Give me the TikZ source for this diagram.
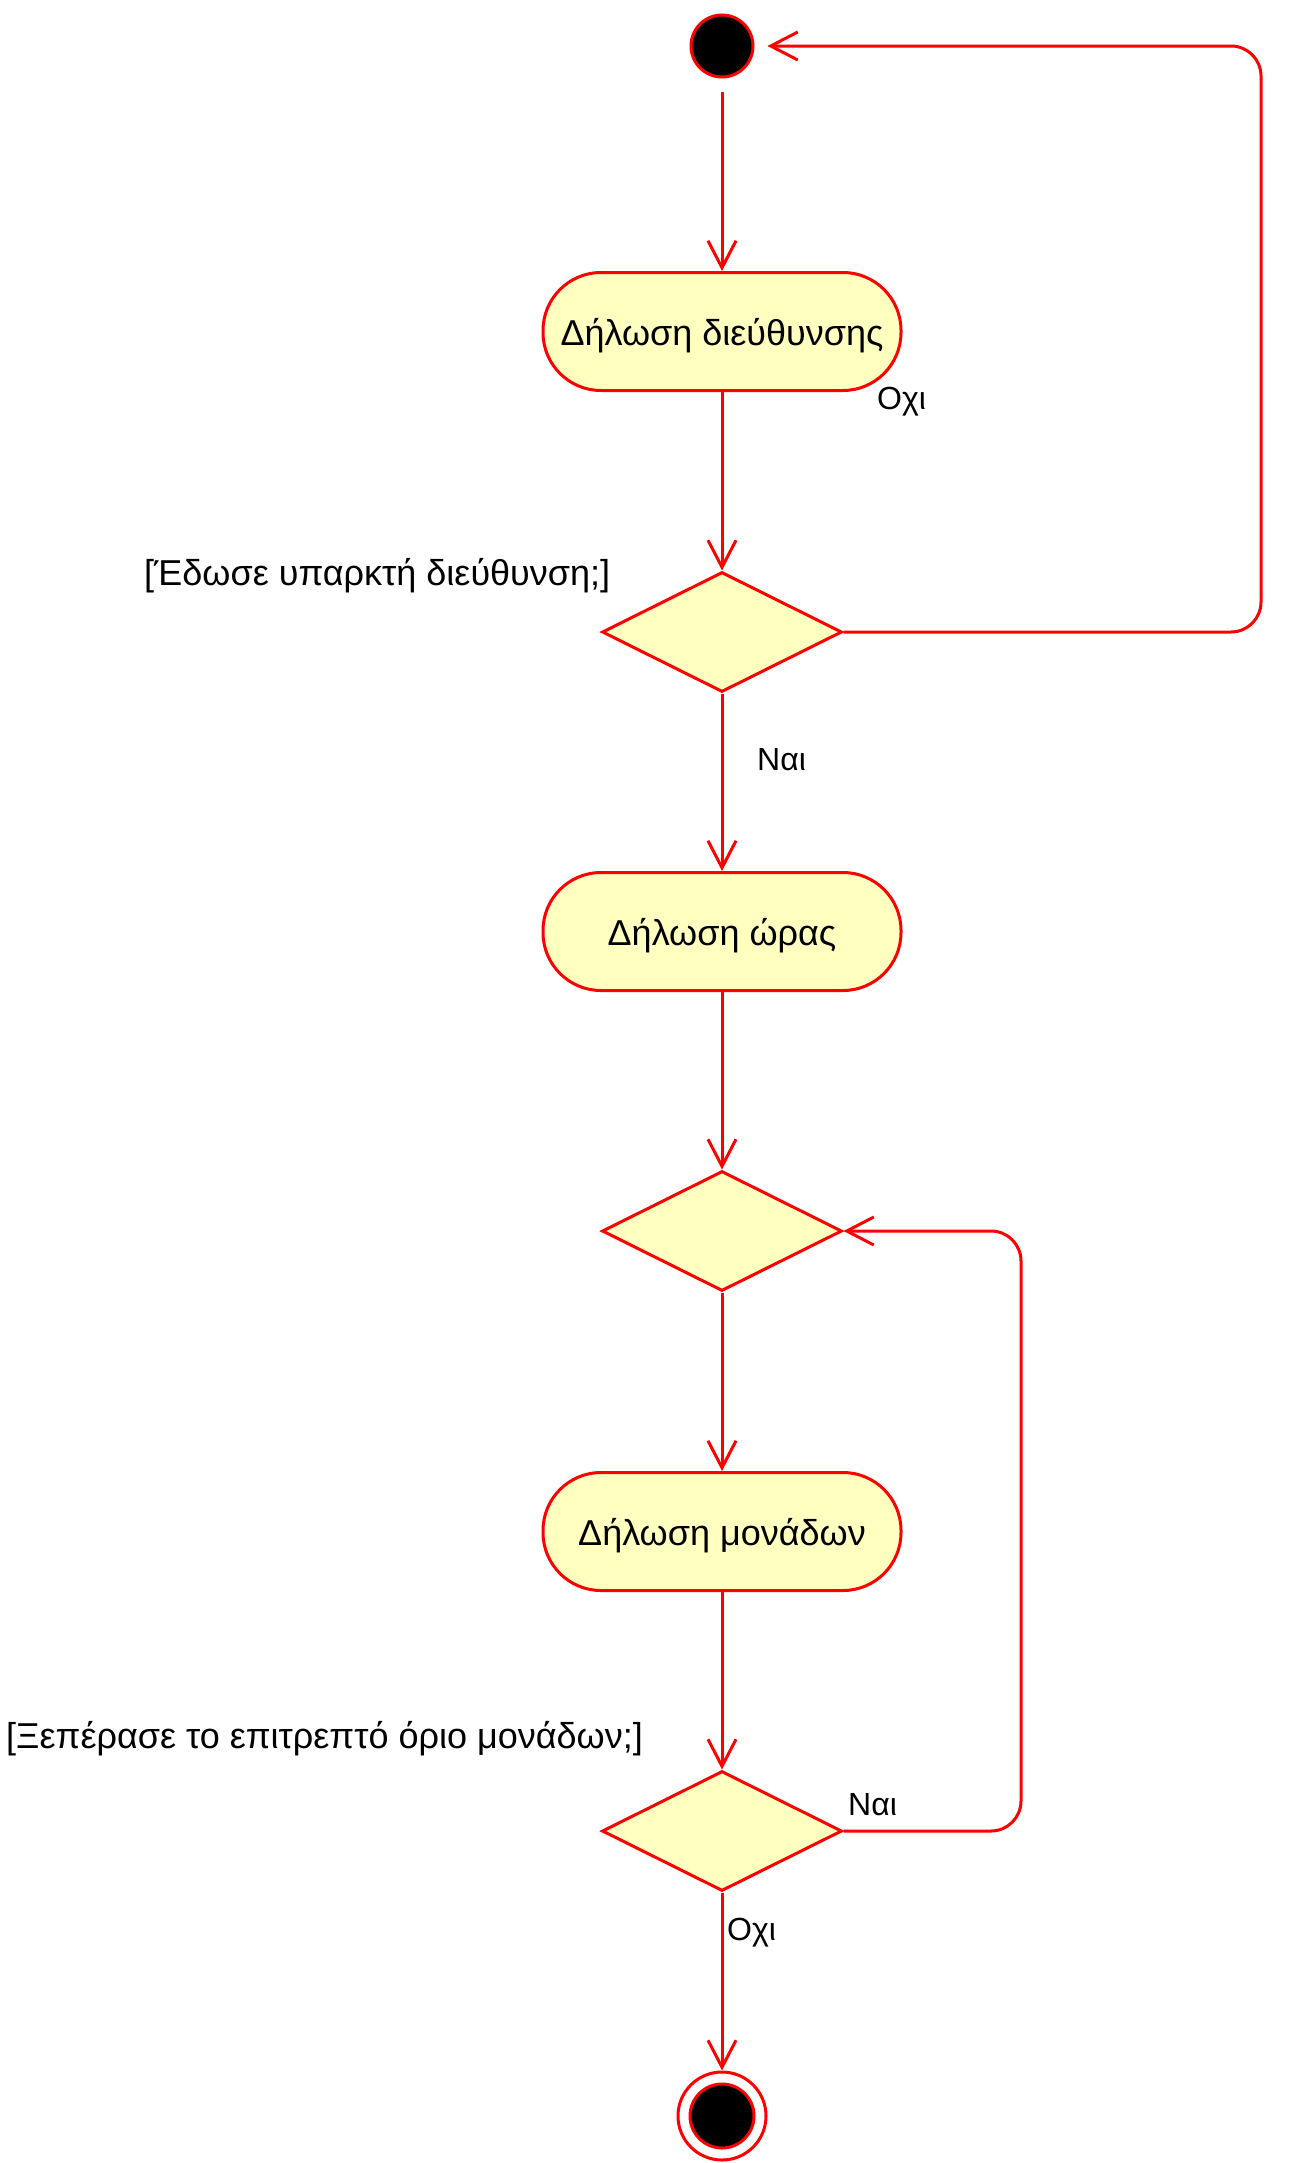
\documentclass[tikz,border=0pt]{standalone}
\usepackage{fontspec}
\setmainfont{Liberation Sans}
\usetikzlibrary{arrows.meta,shapes.geometric}
\definecolor{umlred}{HTML}{FF0000}
\definecolor{umlfill}{HTML}{FFFFC0}
\begin{document}
\begin{tikzpicture}[x=1pt,y=-1pt,
  activity/.style={draw=umlred, fill=umlfill, line width=3pt, rounded corners=58pt,
    minimum width=358pt, minimum height=118pt, inner sep=0pt,
    text height=27pt, text depth=0pt,
    font=\fontsize{36}{40}\selectfont},
  decision/.style={draw=umlred, fill=umlfill, line width=3pt, diamond, shape aspect=2,
    minimum width=240pt, minimum height=120pt, inner sep=0pt},
  flow/.style={draw=umlred, line width=3pt, -{Straight Barb[length=27pt,width=28pt,line width=3pt]}},
  edgelbl/.style={inner sep=0pt, anchor=base west, font=\fontsize{32}{36}\selectfont},
  guardlbl/.style={inner sep=0pt, anchor=base west, font=\fontsize{36}{40}\selectfont}]
\useasboundingbox (0,0) rectangle (1293,2163);
% nodes
\node[circle, draw=umlred, fill=black, line width=3pt, minimum size=62pt, inner sep=0pt] (start) at (722,46) {};
\node[activity] (b1) at (722,331.5) {Δήλωση διεύθυνσης};
\node[decision] (d1) at (722,632) {};
\node[activity] (b2) at (722,931.5) {Δήλωση ώρας};
\node[decision] (d2) at (722,1231) {};
\node[activity] (b3) at (722,1531.5) {Δήλωση μονάδων};
\node[decision] (d3) at (722,1831) {};
\node[circle, draw=umlred, fill=white, line width=3pt, minimum size=88pt, inner sep=0pt] (end) at (722,2116) {};
\node[circle, draw=umlred, fill=black, line width=3pt, minimum size=64pt, inner sep=0pt] (endin) at (end.center) {};
% corner coordinates
\coordinate (c1a) at (1261,632);
\coordinate (c1b) at (1261,46);
\coordinate (c2a) at (1021,1831);
\coordinate (c2b) at (1021,1231);
% connectors
\draw[flow, shorten <=13pt] (start) -- (b1);
\draw[flow] (b1) -- (d1);
\draw[flow] (d1) -- (b2);
\draw[flow] (b2) -- (d2);
\draw[flow] (d2) -- (b3);
\draw[flow] (b3) -- (d3);
\draw[flow] (d3) -- (end);
\draw[flow, rounded corners=30pt, shorten >=13pt] (d1.east) -- (c1a) -- (c1b) -- (start.east);
\draw[flow, rounded corners=30pt] (d3.east) -- (c2a) -- (c2b) -- (d2.east);
% labels
\node[edgelbl] (l1) at (877,409) {Οχι};
\node[guardlbl] (g1) at (144,585) {[Έδωσε υπαρκτή διεύθυνση;]};
\node[edgelbl] (l2) at (757,770) {Ναι};
\node[guardlbl] (g2) at (6,1748) {[Ξεπέρασε το επιτρεπτό όριο μονάδων;]};
\node[edgelbl] (l3) at (848,1815) {Ναι};
\node[edgelbl] (l4) at (727,1940) {Οχι};
\end{tikzpicture}
\end{document}
